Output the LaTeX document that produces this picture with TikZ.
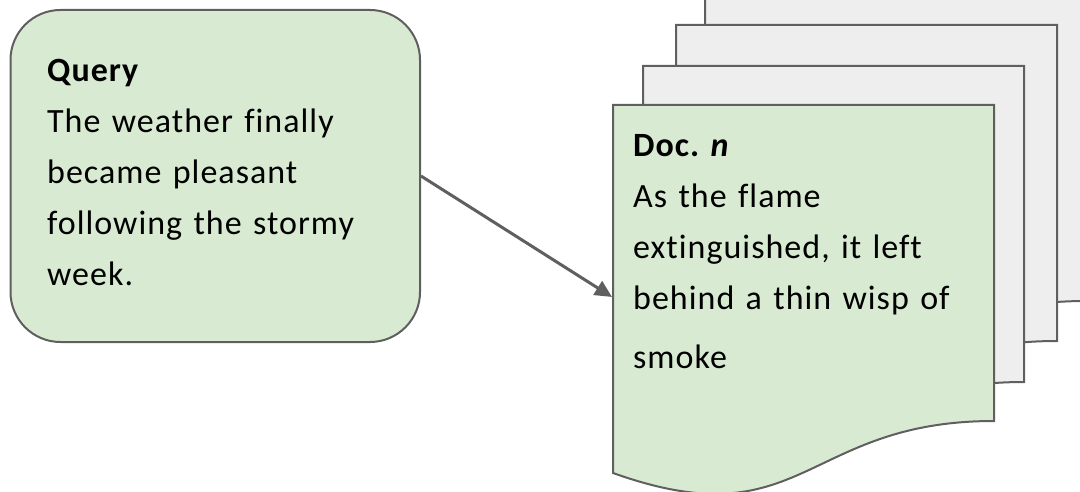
\documentclass[tikz,border=0pt]{standalone}
\usepackage{fontspec}
\setmainfont{Carlito}[LetterSpace=3.0, Ligatures=NoCommon]
\usetikzlibrary{arrows.meta,calc}

\definecolor{boxgreen}{HTML}{D9EAD3}
\definecolor{pagegray}{HTML}{EEEEEE}
\definecolor{edgegray}{HTML}{5F5F5F}

% a page with a wavy bottom edge, top-left corner at (#1,#2)
\newcommand\docpage[2]{(#1,#2) -- ++(381,0) -- ++(0,316)
  .. controls +(-190.5,0) and +(190.5,68) .. ($(#1,#2)+(0,368)$) -- cycle}

\begin{document}
\frenchspacing
\begin{tikzpicture}[x=1pt,y=-1pt,
  every node/.style={font=\fontsize{34}{51}\selectfont},
  qbox/.style={draw=edgegray, line width=2pt, fill=boxgreen,
    rounded corners=50pt, inner sep=0pt},
  backpage/.style={draw=edgegray, line width=2pt, fill=pagegray},
  frontpage/.style={draw=edgegray, line width=2pt, fill=boxgreen},
  body/.style={inner sep=0pt, align=left, text width=360pt, anchor=base west},
  conn/.style={draw=edgegray, line width=3pt,
    -{Triangle[length=17pt,width=16pt]}}]
\useasboundingbox (0,0) rectangle (1080,492);
\clip (0,0) rectangle (1080,492);

% query card
\node[qbox, anchor=north west, minimum width=409.5pt, minimum height=332pt]
  (query) at (9.5,9) {};
\node[body] (qtext) at (47,82)
  {\textbf{Query}\\The weather finally\\became pleasant\\following the stormy\\week.};

% stack of pages, back to front
\path[backpage] \docpage{705}{-15};
\path[backpage] \docpage{676}{25};
\path[backpage] \docpage{643}{66};
\path[frontpage] \docpage{613}{105};
\coordinate (docin) at (612,297);
\node[body] (dtext) at (633,157)
  {\textbf{Doc. \textit{n}}\\As the flame\\extinguished, it left\\behind a thin wisp of\\[8pt]smoke};

% query to document
\draw[conn] (query.east) -- (docin);
\end{tikzpicture}
\end{document}
